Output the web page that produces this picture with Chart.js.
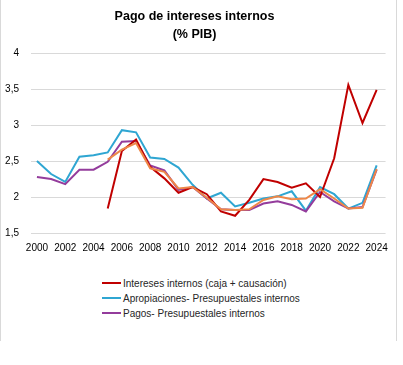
<!DOCTYPE html>
<html lang="es">
<head>
<meta charset="UTF-8">
<title>Pago de intereses internos</title>
<script src="https://cdn.jsdelivr.net/npm/chart.js"></script>
<style>
    body { margin: 0; background: #fff; }
    .frame {
        position: relative;
        width: 397px;
        height: 341px;
        border-left: 1px solid #d9d9d9;
        border-right: 1px solid #d9d9d9;
        box-sizing: border-box;
    }
    #chart { position: absolute; left: 0; top: 0; }
    .legend {
        position: absolute;
        left: 101px;
        top: 276px;
        font-family: "Liberation Sans", Arial, sans-serif;
        font-size: 10px;
        color: #262626;
    }
    .legend div { height: 15px; line-height: 15px; white-space: nowrap; }
    .legend span.mark {
        display: inline-block;
        width: 19px;
        height: 2px;
        vertical-align: middle;
        margin-right: 2px;
        position: relative;
        top: -1px;
    }
</style>
</head>
<body>
<div class="frame">
    <canvas id="chart" width="396" height="265"></canvas>
    <div class="legend" id="legend"></div>
</div>

<script>
const years = [2000, 2001, 2002, 2003, 2004, 2005, 2006, 2007, 2008, 2009, 2010, 2011, 2012,
               2013, 2014, 2015, 2016, 2017, 2018, 2019, 2020, 2021, 2022, 2023, 2024];

// Intereses internos (caja + causación)
const interesesInternos = [null, null, null, null, null, 1.84, 2.64, 2.80, 2.42, 2.26, 2.06, 2.14, 2.04,
                           1.80, 1.74, 1.96, 2.25, 2.21, 2.13, 2.19, 2.00, 2.54, 3.56, 3.03, 3.49];
// Apropiaciones- Presupuestales internos
const apropiaciones = [2.50, 2.32, 2.21, 2.56, 2.58, 2.62, 2.93, 2.90, 2.55, 2.53, 2.41, 2.17, 1.98,
                       2.06, 1.87, 1.92, 1.98, 2.01, 2.08, 1.81, 2.14, 2.04, 1.84, 1.92, 2.44];
// Pagos- Presupuestales internos
const pagos = [2.28, 2.25, 2.18, 2.38, 2.38, 2.49, 2.77, 2.78, 2.44, 2.37, 2.10, 2.14, 1.98,
               1.83, 1.82, 1.82, 1.91, 1.94, 1.89, 1.80, 2.07, 1.94, 1.84, 1.86, 2.38];
// serie sin entrada en la leyenda
const serieNaranja = [null, null, null, null, null, 2.52, 2.66, 2.75, 2.40, 2.35, 2.12, 2.14, 1.99,
                      1.83, 1.82, 1.83, 1.96, 2.01, 1.97, 1.98, 2.11, 1.98, 1.84, 1.85, 2.39];

const xTicks = [2000, 2002, 2004, 2006, 2008, 2010, 2012, 2014, 2016, 2018, 2020, 2022, 2024];
const yTicks = [1.5, 2, 2.5, 3, 3.5, 4];

const fontFamily = '"Liberation Sans", Arial, sans-serif';

function pts(arr) {
    return years.map((yr, i) => ({ x: yr, y: arr[i] }));
}

const datasets = [
    { label: 'Intereses internos (caja + causación)', data: pts(interesesInternos), borderColor: '#C00000', order: 1, legend: true },
    { label: 'Apropiaciones- Presupuestales internos', data: pts(apropiaciones), borderColor: '#2FA6D2', order: 3, legend: true },
    { label: 'Pagos- Presupuestales internos', data: pts(pagos), borderColor: '#943C9C', order: 2, legend: true },
    { label: '', data: pts(serieNaranja), borderColor: '#EE8748', order: 0, legend: false }
];
datasets.forEach(d => {
    d.borderWidth = 2;
    d.pointRadius = 0;
    d.tension = 0;
    d.fill = false;
    d.spanGaps = false;
});

const chart = new Chart(document.getElementById('chart').getContext('2d'), {
    type: 'line',
    data: { datasets: datasets },
    options: {
        responsive: false,
        animation: false,
        layout: { padding: { left: 0, right: 9, top: 0, bottom: 2 } },
        plugins: {
            legend: { display: false },
            tooltip: { enabled: false },
            title: {
                display: true,
                text: ['Pago de intereses internos', '(% PIB)'],
                color: '#000',
                font: { family: fontFamily, size: 12.5, weight: 'bold', lineHeight: 1.45 },
                padding: { top: 7, bottom: 10 }
            }
        },
        scales: {
            x: {
                type: 'linear',
                min: 1999.58,
                max: 2024.63,
                grid: { display: false, drawTicks: false },
                border: { display: false },
                afterBuildTicks: s => { s.ticks = xTicks.map(v => ({ value: v })); },
                ticks: {
                    color: '#000',
                    padding: 9,
                    maxRotation: 0,
                    autoSkip: false,
                    font: { family: fontFamily, size: 10 },
                    callback: v => String(v)
                }
            },
            y: {
                min: 1.5,
                max: 4,
                grid: { color: '#d9d9d9', drawTicks: false },
                border: { display: false },
                afterBuildTicks: s => { s.ticks = yTicks.map(v => ({ value: v })); },
                afterFit: s => { s.width = 30; },
                ticks: {
                    color: '#000',
                    padding: 12,
                    font: { family: fontFamily, size: 10 },
                    callback: v => String(v).replace('.', ',')
                }
            }
        }
    }
});

const legend = document.getElementById('legend');
datasets.filter(d => d.legend).forEach(d => {
    const row = document.createElement('div');
    const mark = document.createElement('span');
    mark.className = 'mark';
    mark.style.background = d.borderColor;
    row.appendChild(mark);
    row.appendChild(document.createTextNode(d.label));
    legend.appendChild(row);
});
</script>
</body>
</html>
